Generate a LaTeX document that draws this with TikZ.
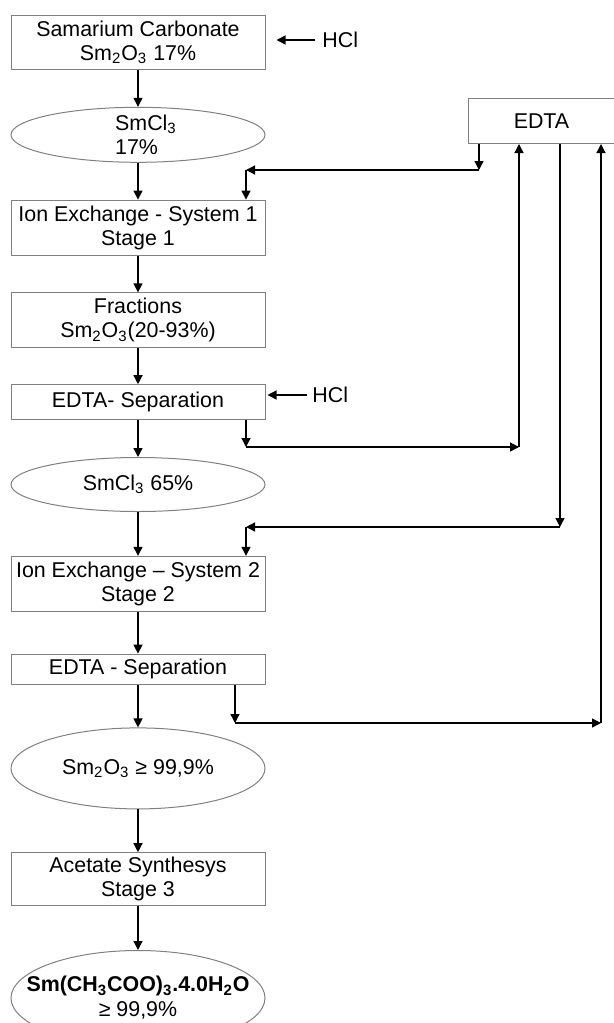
\documentclass[tikz,border=0pt]{standalone}
\usepackage{fontspec}
\setmainfont{Liberation Sans}
\usetikzlibrary{positioning,shapes.geometric,arrows.meta}

\begin{document}
\begin{tikzpicture}[x=0.5pt,y=-0.5pt,font=\fontsize{10.7}{12}\selectfont,
    node distance=18.4pt,
    stepbox/.style={draw=gray,line width=0.5pt,minimum width=127pt,minimum height=27.5pt,inner sep=1pt,align=center},
    phase/.style={ellipse,draw=gray,line width=0.5pt,minimum width=127pt,minimum height=27.5pt,inner sep=0pt},
    flow/.style={-{Triangle[length=4.5pt,width=4.5pt]},line width=0.65pt}]

    \useasboundingbox (0,0) rectangle (614,1023);

    % Define main column
    \node[stepbox,minimum height=27pt,anchor=north] (carb) at (138,15) {Samarium Carbonate\\Sm\textsubscript{2}O\textsubscript{3} 17\%};
    \node[phase,below=of carb,label={[align=left,xshift=4pt]center:{SmCl\textsubscript{3}\\17\%}}] (cl1) {};
    \node[stepbox,below=of cl1] (ion1) {Ion Exchange - System 1\\Stage 1};
    \node[stepbox,below=of ion1] (frac) {Fractions\\Sm\textsubscript{2}O\textsubscript{3}(20-93\%)};
    \node[stepbox,minimum height=17.5pt,below=17.9pt of frac] (sep1) {EDTA- Separation};
    \node[phase,minimum height=27pt,below=of sep1,label={center:SmCl\textsubscript{3} 65\%}] (cl2) {};
    \node[stepbox,below=21.9pt of cl2] (ion2) {Ion Exchange -- System 2\\Stage 2};
    \node[stepbox,minimum height=15pt,below=20.9pt of ion2] (sep2) {EDTA - Separation};
    \node[phase,minimum height=40.5pt,below=21.4pt of sep2,label={center:Sm\textsubscript{2}O\textsubscript{3} ≥ 99,9\%}] (oxide) {};
    \node[stepbox,minimum height=26.5pt,below=21.4pt of oxide] (acet) {Acetate Synthesys\\Stage 3};
    \node[phase,minimum height=47.5pt,below=21.9pt of acet,
          label={[align=center,font=\fontsize{10.7}{12.5}\selectfont]center:{\textbf{Sm(CH\textsubscript{3}COO)\textsubscript{3}.4.0H\textsubscript{2}O}\\≥ 99,9\%}}] (prod) {};

    % Define side nodes
    \node[stepbox,minimum width=73pt,minimum height=22.5pt,anchor=north west] (edta) at (468,98) {EDTA};
    \node[anchor=west,inner sep=0pt] (hcl1) at (322,40) {HCl};
    \node[anchor=west,inner sep=0pt] (hcl2) at (312,395) {HCl};

    % Draw main flow
    \foreach \a/\b in {carb/cl1,cl1/ion1,ion1/frac,frac/sep1,sep1/cl2,cl2/ion2,ion2/sep2,sep2/oxide,oxide/acet,acet/prod}
        \draw[flow] (\a) -- (\b);

    \draw[flow,shorten <=3.5pt,shorten >=5.5pt] (hcl1.west) -- (hcl1.west -| carb.east);
    \draw[flow,shorten <=2.5pt,shorten >=1pt] (hcl2.west) -- (hcl2.west -| sep1.east);

    % EDTA loops
    \coordinate (a1) at (479,170);
    \coordinate (a2) at (246,170);
    \draw[flow] (a1 |- edta.south) -- (a1);
    \draw[flow] (a1) -- (a2);
    \draw[flow] (a2) -- (a2 |- ion1.north);

    \coordinate (b1) at (246,447);
    \coordinate (b2) at (519,447);
    \draw[flow] (b1 |- sep1.south) -- (b1);
    \draw[flow] (b1) -- (b2);
    \draw[flow] (b2) -- (b2 |- edta.south);

    \coordinate (c1) at (560,527);
    \coordinate (c2) at (246,527);
    \draw[flow] (c1 |- edta.south) -- (c1);
    \draw[flow] (c1) -- (c2);
    \draw[flow] (c2) -- (c2 |- ion2.north);

    \coordinate (d1) at (235,723);
    \coordinate (d2) at (601,723);
    \draw[flow] (d1 |- sep2.south) -- (d1);
    \draw[flow] (d1) -- (d2);
    \draw[flow] (d2) -- (d2 |- edta.south);

\end{tikzpicture}
\end{document}
